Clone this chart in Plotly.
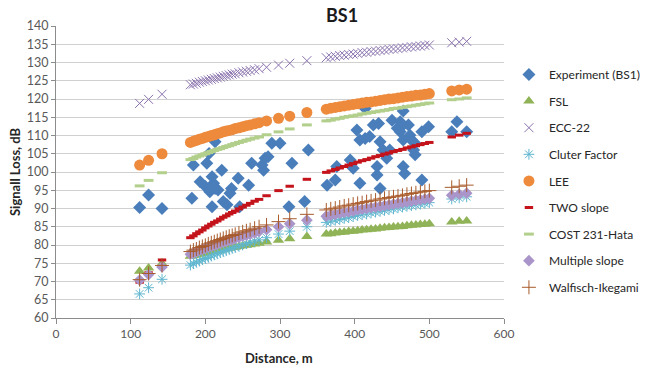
import plotly.graph_objects as go

# ---------------- data ----------------
exp_distance = [112, 124, 142, 182, 184, 193, 200, 202, 205, 206, 209, 209, 211, 213, 213,
                217, 222, 224, 229, 233, 235, 244, 246, 258, 262, 276, 278, 280, 284, 289,
                300, 312, 316, 333, 338, 363, 374, 376, 394, 398, 403, 407, 407, 414, 414,
                420, 425, 430, 430, 432, 434, 434, 438, 443, 447, 450, 457, 461, 461, 463,
                465, 465, 465, 467, 472, 474, 476, 479, 481, 481, 490, 490, 499, 530, 537, 550]
exp_loss = [90.3, 93.7, 90.0, 92.8, 101.9, 97.3, 96.0, 102.4, 105.1, 94.6, 98.7, 90.5, 96.9, 108.3, 95.5,
            95.1, 100.5, 91.9, 91.0, 94.2, 95.5, 98.3, 90.5, 96.4, 102.4, 101.9, 100.5, 103.8, 104.2, 107.9,
            107.9, 90.5, 102.4, 91.9, 106.0, 96.4, 97.8, 101.5, 103.3, 101.0, 111.5, 108.8, 96.9, 117.4, 109.2,
            109.7, 112.9, 101.5, 99.2, 113.3, 108.3, 95.5, 106.0, 103.8, 106.0, 114.2, 112.0, 111.0, 113.8, 112.5,
            116.7, 108.8, 101.5, 99.6, 112.9, 110.1, 108.8, 106.0, 107.9, 104.7, 111.0, 97.8, 112.4, 111.0, 113.8, 111.0]

model_distance = [112, 124, 142, 180, 184, 188, 192, 196, 200, 204, 208, 212, 216, 220, 224, 228,
                  232, 236, 240, 245, 250, 255, 260, 266, 272, 282, 298, 313, 336, 362, 368, 374,
                  380, 386, 392, 398, 404, 410, 416, 422, 428, 434, 440, 446, 452, 458, 464, 470,
                  476, 482, 488, 494, 500, 530, 540, 550]

fsl = [72.8, 73.7, 74.9, 76.9, 77.1, 77.3, 77.5, 77.7, 77.8, 78.0, 78.2, 78.3, 78.5, 78.7, 78.8, 79.0,
       79.1, 79.3, 79.4, 79.6, 79.8, 79.9, 80.1, 80.3, 80.5, 80.8, 81.3, 81.7, 82.3, 83.0, 83.1, 83.3,
       83.4, 83.5, 83.7, 83.8, 83.9, 84.1, 84.2, 84.3, 84.4, 84.6, 84.7, 84.8, 84.9, 85.0, 85.1, 85.3,
       85.4, 85.5, 85.6, 85.7, 85.8, 86.3, 86.5, 86.6]
ecc22 = [118.8, 119.9, 121.3, 123.9, 124.1, 124.3, 124.6, 124.8, 125.0, 125.2, 125.4, 125.6, 125.8, 126.0, 126.2, 126.4,
         126.6, 126.8, 126.9, 127.2, 127.4, 127.6, 127.8, 128.0, 128.3, 128.7, 129.3, 129.8, 130.5, 131.3, 131.5, 131.7,
         131.9, 132.0, 132.2, 132.3, 132.5, 132.7, 132.8, 133.0, 133.1, 133.3, 133.4, 133.6, 133.7, 133.8, 134.0, 134.1,
         134.3, 134.4, 134.5, 134.7, 134.8, 135.4, 135.6, 135.8]
cluter = [66.6, 68.3, 70.6, 74.5, 74.9, 75.3, 75.6, 76.0, 76.3, 76.6, 77.0, 77.3, 77.6, 77.9, 78.2, 78.5,
          78.8, 79.1, 79.3, 79.7, 80.0, 80.4, 80.7, 81.1, 81.4, 82.0, 83.0, 83.8, 85.0, 86.2, 86.5, 86.8,
          87.0, 87.3, 87.5, 87.8, 88.1, 88.3, 88.5, 88.8, 89.0, 89.2, 89.5, 89.7, 89.9, 90.2, 90.4, 90.6,
          90.8, 91.0, 91.2, 91.4, 91.6, 92.6, 92.9, 93.2]
lee = [101.9, 103.2, 105.0, 108.1, 108.4, 108.7, 109.0, 109.2, 109.5, 109.7, 110.0, 110.2, 110.5, 110.7, 111.0, 111.2,
       111.4, 111.6, 111.9, 112.1, 112.4, 112.7, 112.9, 113.2, 113.5, 114.0, 114.7, 115.3, 116.3, 117.2, 117.5, 117.7,
       117.9, 118.1, 118.3, 118.5, 118.7, 118.9, 119.1, 119.2, 119.4, 119.6, 119.8, 120.0, 120.1, 120.3, 120.5, 120.7,
       120.8, 121.0, 121.1, 121.3, 121.5, 122.2, 122.5, 122.7]
two_slope = [69.8, 72.4, 75.9, 82.0, 82.5, 83.1, 83.6, 84.1, 84.7, 85.2, 85.7, 86.2, 86.6, 87.1, 87.6, 88.0,
             88.5, 88.9, 89.3, 89.9, 90.4, 90.9, 91.4, 92.0, 92.5, 93.5, 94.9, 96.1, 98.0, 99.9, 100.3, 100.7,
             101.1, 101.5, 101.9, 102.3, 102.7, 103.1, 103.4, 103.8, 104.2, 104.5, 104.9, 105.2, 105.6, 105.9, 106.2, 106.6,
             106.9, 107.2, 107.5, 107.8, 108.1, 109.6, 110.1, 110.6]
cost231 = [96.2, 97.7, 99.8, 103.4, 103.7, 104.1, 104.4, 104.7, 105.0, 105.3, 105.6, 105.9, 106.2, 106.4, 106.7, 107.0,
           107.2, 107.5, 107.8, 108.1, 108.4, 108.7, 109.0, 109.3, 109.6, 110.2, 111.0, 111.8, 112.9, 114.0, 114.2, 114.5,
           114.7, 115.0, 115.2, 115.4, 115.6, 115.9, 116.1, 116.3, 116.5, 116.7, 116.9, 117.1, 117.4, 117.5, 117.7, 117.9,
           118.1, 118.3, 118.5, 118.7, 118.9, 119.8, 120.0, 120.3]
multi_slope = [70.4, 71.9, 74.0, 77.5, 77.8, 78.1, 78.5, 78.8, 79.1, 79.4, 79.7, 79.9, 80.2, 80.5, 80.8, 81.0,
               81.3, 81.5, 81.8, 82.1, 82.4, 82.7, 83.0, 83.3, 83.7, 84.2, 85.0, 85.8, 86.8, 87.9, 88.2, 88.4,
               88.7, 88.9, 89.1, 89.3, 89.6, 89.8, 90.0, 90.2, 90.4, 90.6, 90.8, 91.0, 91.2, 91.4, 91.6, 91.8,
               92.0, 92.2, 92.4, 92.6, 92.8, 93.6, 93.9, 94.2]
walfisch = [70.5, 72.2, 74.4, 78.2, 78.6, 78.9, 79.3, 79.6, 79.9, 80.3, 80.6, 80.9, 81.2, 81.5, 81.8, 82.1,
            82.4, 82.6, 82.9, 83.3, 83.6, 83.9, 84.2, 84.6, 85.0, 85.5, 86.4, 87.2, 88.4, 89.6, 89.9, 90.1,
            90.4, 90.7, 90.9, 91.2, 91.4, 91.6, 91.9, 92.1, 92.3, 92.6, 92.8, 93.0, 93.2, 93.4, 93.6, 93.9,
            94.1, 94.3, 94.5, 94.7, 94.9, 95.8, 96.1, 96.4]

y_ticks = list(range(60, 141, 5))
x_ticks = list(range(0, 601, 100))

FONT = "Lato, 'Open Sans', sans-serif"

# ---------------- figure ----------------
fig = go.Figure()

def add(name, x, y, symbol, color, size, line_color=None, line_width=0):
    fig.add_trace(go.Scatter(
        x=x, y=y, mode="markers", name=name, legendgroup=name,
        marker=dict(symbol=symbol, size=size, color=color,
                    line=dict(color=line_color or color, width=line_width)),
    ))

add("Experiment (BS1)", exp_distance, exp_loss, "diamond", "#4a7ebb", 10)
add("FSL", model_distance, fsl, "triangle-up", "#8fb356", 10)
add("ECC-22", model_distance, ecc22, "x-thin", "#8a72ae", 9, "#8a72ae", 1)
add("Cluter Factor", model_distance, cluter, "asterisk", "#5fb6cf", 9, "#5fb6cf", 1)
add("LEE", model_distance, lee, "circle", "#ee8a3c", 11)
add("TWO slope", model_distance, two_slope, "line-ew", "#c4131b", 6, "#c4131b", 3)
add("COST 231-Hata", model_distance, cost231, "line-ew", "#b2cf8c", 7, "#b2cf8c", 3)
add("Multiple slope", model_distance, multi_slope, "diamond", "#a995c9", 9)
add("Walfisch-Ikegami", model_distance, walfisch, "cross-thin", "#a85a2a", 10, "#a85a2a", 1)

fig.update_layout(
    width=656, height=370,
    margin=dict(l=56, r=152, t=26, b=52, autoexpand=False),
    paper_bgcolor="white", plot_bgcolor="white",
    font=dict(family=FONT, size=12, color="#404040"),
    showlegend=True,
    legend=dict(x=1.011, xanchor="left", y=0.8836, yanchor="top",
                font=dict(family=FONT, size=12, color="#262626"),
                tracegroupgap=7.6, itemwidth=30, bgcolor="rgba(0,0,0,0)"),
    xaxis=dict(range=[0, 600], tickmode="array", tickvals=x_ticks,
               showgrid=False, zeroline=False, showline=True, linecolor="#8c8c8c", linewidth=1,
               ticks="outside", ticklen=5, tickcolor="#8c8c8c",
               tickfont=dict(family=FONT, size=12, color="#595959")),
    yaxis=dict(range=[60, 140], tickmode="array", tickvals=y_ticks,
               showgrid=True, gridcolor="#d0d0d0", gridwidth=1, zeroline=False,
               showline=True, linecolor="#8c8c8c", linewidth=1,
               ticks="outside", ticklen=4, tickcolor="#8c8c8c",
               tickfont=dict(family=FONT, size=12.5, color="#595959")),
    annotations=[
        dict(text="<b>BS1</b>", x=0.638, y=1.0377, xref="paper", yref="paper",
             showarrow=False, xanchor="center", yanchor="middle",
             font=dict(family=FONT, size=18, color="#1a1a1a")),
        dict(text="<b>Signall Loss, dB</b>", x=-0.0915, y=0.5, xref="paper", yref="paper",
             showarrow=False, textangle=-90, xanchor="center", yanchor="middle",
             font=dict(family=FONT, size=13, color="#262626")),
        dict(text="<b>Distance, m</b>", x=0.498, y=-0.137, xref="paper", yref="paper",
             showarrow=False, xanchor="center", yanchor="middle",
             font=dict(family=FONT, size=13, color="#262626")),
    ],
)

fig.write_html("out.html")
